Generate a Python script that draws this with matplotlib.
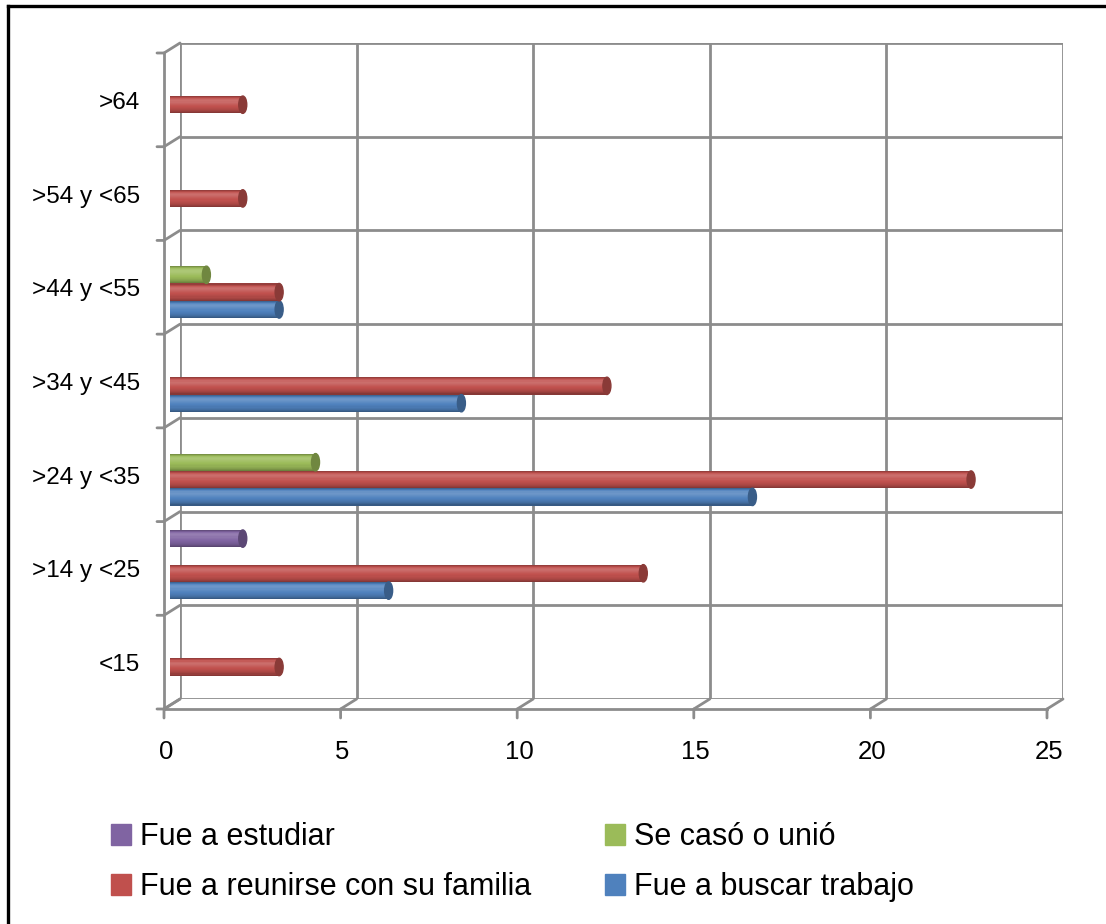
import numpy as np
import matplotlib
matplotlib.use('Agg')
import matplotlib.pyplot as plt
import matplotlib.transforms as mtransforms
from matplotlib.patches import Ellipse, Patch, ConnectionPatch
from matplotlib.lines import Line2D
from matplotlib.colors import to_rgb

# datos (porcentajes)
categorias = ['<15', '>14 y <25', '>24 y <35', '>34 y <45', '>44 y <55', '>54 y <65', '>64']
buscar_trabajo = [0, 6.19, 16.49, 8.25, 3.09, 0, 0]
reunirse_familia = [3.09, 13.40, 22.68, 12.37, 3.09, 2.06, 2.06]
se_caso = [0, 0, 4.12, 0, 1.03, 0, 0]
estudiar = [0, 2.06, 0, 0, 0, 0, 0]
ticks_x = [0, 5, 10, 15, 20, 25]

series = [
    ('Fue a buscar trabajo', buscar_trabajo, '#4F81BD'),
    ('Fue a reunirse con su familia', reunirse_familia, '#C0504D'),
    ('Se casó o unió', se_caso, '#9BBB59'),
    ('Fue a estudiar', estudiar, '#8064A2'),
]

W, H = 1106, 924
fig = plt.figure(figsize=(W / 100, H / 100), dpi=100)
fig.patch.set_facecolor('white')

# pared del fondo
ax = fig.add_axes([180 / W, 1 - 699 / H, 883 / W, 656 / H])
ax.set_xlim(0, 25)
ax.set_ylim(0, 7)
ax.axis('off')

gris = '#8c8c8c'
lw = 2.0
n = len(categorias)

ax.vlines(ticks_x, 0, n, color=gris, lw=lw, zorder=1)
ax.hlines(range(n + 1), 0, 25, color=gris, lw=lw, zorder=1)

# plano frontal (efecto 3D)
front = mtransforms.offset_copy(ax.transData, fig=fig, x=-16, y=-10, units='dots')
ax.plot([0, 25], [0, 0], color=gris, lw=lw, transform=front, clip_on=False)
ax.plot([0, 0], [0, n], color=gris, lw=lw, transform=front, clip_on=False)
for t in ticks_x:
    fig.add_artist(ConnectionPatch((t, 0), (t, 0), coordsA=ax.transData, coordsB=front,
                                   color=gris, lw=lw))
for k in range(n + 1):
    fig.add_artist(ConnectionPatch((0, k), (0, k), coordsA=ax.transData, coordsB=front,
                                   color=gris, lw=lw))

tick_down = mtransforms.offset_copy(ax.transData, fig=fig, x=-16, y=-19, units='dots')
for t in ticks_x:
    fig.add_artist(ConnectionPatch((t, 0), (t, 0), coordsA=front, coordsB=tick_down,
                                   color=gris, lw=lw))
tick_left = mtransforms.offset_copy(ax.transData, fig=fig, x=-23, y=-10, units='dots')
for k in range(n + 1):
    fig.add_artist(ConnectionPatch((0, k), (0, k), coordsA=front, coordsB=tick_left,
                                   color=gris, lw=lw))

fuente = 'Liberation Sans'
lab_x = mtransforms.offset_copy(ax.transData, fig=fig, x=-14, y=-53, units='dots')
for t in ticks_x:
    ax.text(t, 0, str(t), transform=lab_x, ha='center', va='center',
            fontsize=18.5, family=fuente, clip_on=False)
lab_y = mtransforms.offset_copy(ax.transData, fig=fig, x=-40, y=-13, units='dots')
for i, c in enumerate(categorias):
    ax.text(0, i + 0.5, c, transform=lab_y, ha='right', va='center',
            fontsize=17.5, family=fuente, clip_on=False)

# barras cilíndricas
barra = mtransforms.offset_copy(ax.transData, fig=fig, x=-10, y=-5, units='dots')
paso = 0.185
alto = 0.185
base = 0.21
px_x = 883 / 25.0
ancho_tapa = 8 / px_x
perfil = [0.78, 0.92, 1.06, 1.14, 1.17, 1.15, 1.11, 1.07, 1.03, 1.0,
          0.97, 0.94, 0.9, 0.85, 0.78, 0.7]


def tono(color, f):
    r = np.array(to_rgb(color))
    if f >= 1:
        return tuple(r + (1 - r) * (f - 1))
    return tuple(r * f)


for k, (nombre, vals, color) in enumerate(series):
    for i, v in enumerate(vals):
        if v <= 0:
            continue
        yc = i + base + k * paso
        ns = len(perfil)
        for j, f in enumerate(perfil):
            y0 = yc + alto / 2 - (j + 1) * alto / ns
            ax.barh(y0, v, height=alto / ns, align='edge', color=tono(color, f),
                    lw=0, transform=barra, clip_on=False, zorder=4)
        ax.add_patch(Ellipse((v, yc), ancho_tapa, alto, color=tono(color, 0.72),
                             transform=barra, clip_on=False, zorder=5))

# leyenda
handles = [Patch(color=c, label=nm) for nm, _, c in series]
orden = [3, 1, 2, 0]
fig.legend([handles[i] for i in orden], [handles[i].get_label() for i in orden],
           ncol=2, loc='upper left', bbox_to_anchor=(111 / W, 1 - 822 / H),
           frameon=False, borderpad=0, borderaxespad=0,
           handlelength=0.66, handleheight=0.66,
           handletextpad=0.3, columnspacing=2.4, labelspacing=0.66,
           prop={'family': fuente, 'size': 22})

# marco
fig.add_artist(Line2D([8 / W, 1], [1 - 6 / H, 1 - 6 / H], color='black', lw=2.4))
fig.add_artist(Line2D([8 / W, 8 / W], [0, 1 - 6 / H], color='black', lw=2.4))

fig.savefig('out.png', dpi=100, facecolor='white')
